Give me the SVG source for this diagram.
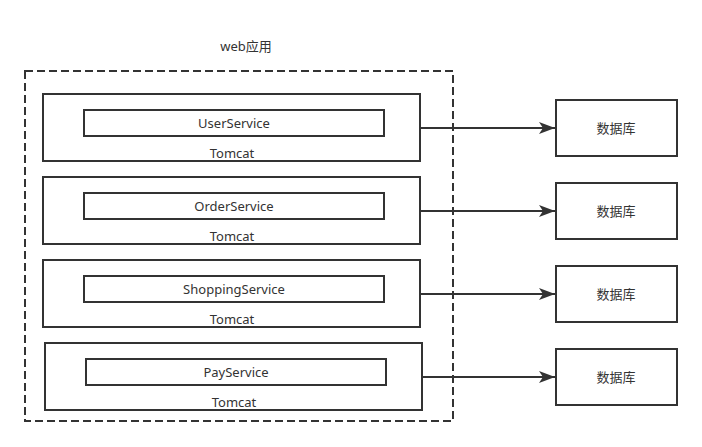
<svg xmlns="http://www.w3.org/2000/svg" width="702" height="447" viewBox="0 0 702 447">
<defs>
<style>
text{font-family:"Noto Sans","Noto Sans CJK SC",sans-serif;font-size:13px;fill:#333;text-anchor:middle;dominant-baseline:central}
.box{fill:#fff;stroke:#333;stroke-width:2}
.inner{fill:#fff;stroke:#333;stroke-width:2}
.conn{stroke:#333;stroke-width:2;fill:none}
</style>
<marker id="arr" viewBox="0 0 10 10" refX="10" refY="5" markerWidth="8" markerHeight="8" markerUnits="userSpaceOnUse" orient="auto">
<path d="M0,0 L10,5 L0,10 L2.5,5 z" fill="#333"/>
</marker>
<marker id="arrow" viewBox="0 0 16 12" refX="16" refY="6" markerWidth="16" markerHeight="12" markerUnits="userSpaceOnUse" orient="auto">
<path d="M0,0 L16,6 L0,12 L4,6 z" fill="#333"/>
</marker>
</defs>
<rect width="702" height="447" fill="#fff"/>
<g id="webapp">
<text x="246" y="46">web应用</text>
<rect x="25" y="71" width="428" height="350" fill="none" stroke="#333" stroke-width="2" stroke-dasharray="8,4"/>
</g>
<g id="tomcat1">
<rect class="box" x="43" y="94" width="377" height="67"/>
<rect class="inner" x="84" y="110" width="300" height="26"/>
<text x="234" y="123">UserService</text>
<text x="232" y="153">Tomcat</text>
</g>
<g id="tomcat2">
<rect class="box" x="43" y="177" width="377" height="67"/>
<rect class="inner" x="84" y="193" width="300" height="26"/>
<text x="234" y="206">OrderService</text>
<text x="232" y="236">Tomcat</text>
</g>
<g id="tomcat3">
<rect class="box" x="43" y="260" width="377" height="67"/>
<rect class="inner" x="84" y="276" width="300" height="26"/>
<text x="234" y="289">ShoppingService</text>
<text x="232" y="319">Tomcat</text>
</g>
<g id="tomcat4">
<rect class="box" x="45" y="343" width="377" height="67"/>
<rect class="inner" x="86" y="359" width="300" height="26"/>
<text x="236" y="372">PayService</text>
<text x="234" y="402">Tomcat</text>
</g>
<g id="db1"><rect class="box" x="556" y="100" width="121" height="56"/><text x="616" y="128">数据库</text></g>
<g id="db2"><rect class="box" x="556" y="183" width="121" height="56"/><text x="616" y="211">数据库</text></g>
<g id="db3"><rect class="box" x="556" y="266" width="121" height="56"/><text x="616" y="294">数据库</text></g>
<g id="db4"><rect class="box" x="556" y="349" width="121" height="56"/><text x="616" y="377">数据库</text></g>
<g id="connectors">
<line class="conn" x1="420" y1="128" x2="555" y2="128" marker-end="url(#arrow)"/>
<line class="conn" x1="420" y1="211" x2="555" y2="211" marker-end="url(#arrow)"/>
<line class="conn" x1="420" y1="294" x2="555" y2="294" marker-end="url(#arrow)"/>
<line class="conn" x1="422" y1="377" x2="555" y2="377" marker-end="url(#arrow)"/>
</g>
</svg>
